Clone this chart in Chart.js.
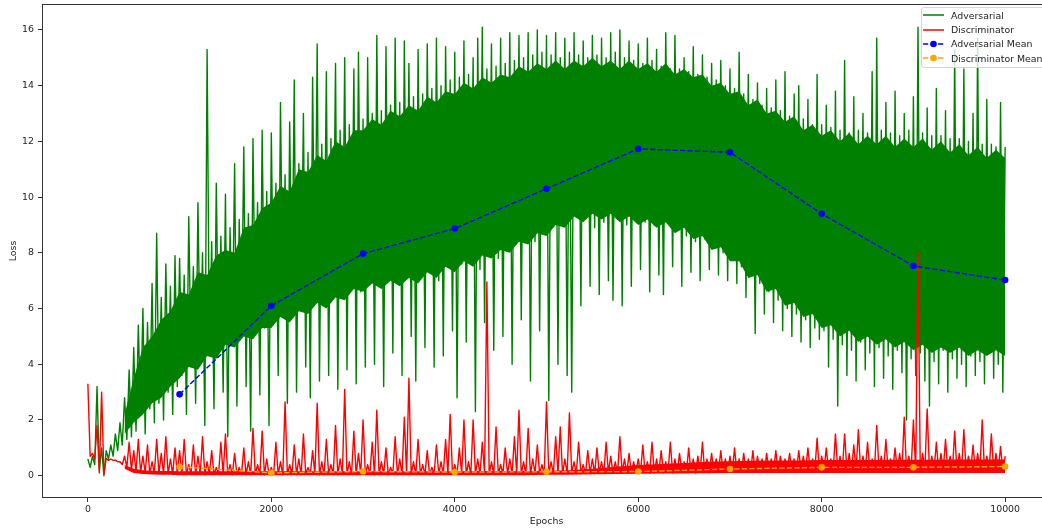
<!DOCTYPE html>
<html lang="en">
<head>
<meta charset="UTF-8">
<title>Adversarial / Discriminator Loss</title>
<script src="https://cdn.jsdelivr.net/npm/chart.js"></script>
<style>
    body {
        margin: 0;
        background: #fff;
        font-family: "DejaVu Sans", sans-serif;
    }
    #wrap {
        position: relative;
        width: 1042px;
        height: 529px;
        overflow: hidden;
    }
    #lossChart {
        position: absolute;
        left: 0;
        top: 0;
    }
    .legend {
        position: absolute;
        left: 921px;
        top: 7px;
        width: 130px;
        padding: 0 0 1px 0;
        background: rgba(255, 255, 255, 0.8);
        border: 1px solid #d4d4d4;
        border-radius: 3px;
        font-size: 9.4px;
        color: #222;
    }
    .legend div {
        height: 14.4px;
        display: flex;
        align-items: center;
        white-space: nowrap;
    }
    .legend svg {
        margin: 0 7px 0 1px;
    }
</style>
</head>
<body>

<div id="wrap">
    <canvas id="lossChart" width="1060" height="529"></canvas>
    <div class="legend">
        <div><svg width="21" height="10"><line x1="0" y1="5" x2="21" y2="5" stroke="#008000" stroke-width="1.5"/></svg>Adversarial</div>
        <div><svg width="21" height="10"><line x1="0" y1="5" x2="21" y2="5" stroke="#ff0000" stroke-width="1.5"/></svg>Discriminator</div>
        <div><svg width="21" height="10"><line x1="0" y1="5" x2="21" y2="5" stroke="#0000ff" stroke-width="1.4" stroke-dasharray="5.2 2.3"/><circle cx="10.5" cy="5" r="3.3" fill="#0000ff"/></svg>Adversarial Mean</div>
        <div><svg width="21" height="10"><line x1="0" y1="5" x2="21" y2="5" stroke="#ffa500" stroke-width="1.4" stroke-dasharray="5.2 2.3"/><circle cx="10.5" cy="5" r="3.3" fill="#ffa500"/></svg>Discriminator Mean</div>
    </div>
</div>

<script>
    // tick values
    const xTicks = [0, 2000, 4000, 6000, 8000, 10000];
    const yTicks = [0, 2, 4, 6, 8, 10, 12, 14, 16];

    // spikes: tops at epochs 0, 50, ..., 10000 and bottoms at 25, 75, ..., 9975
    const sampleStep = 50;

    const advHigh = [
        0.6, 0.7, 3.2, 1.0, 0.9, 1.1, 1.5, 1.9, 2.8, 3.8,
        4.6, 5.4, 6.0, 5.5, 6.9, 8.7, 6.4, 7.6, 6.8, 7.9,
        7.8, 7.2, 9.3, 7.5, 9.8, 8.0, 15.3, 8.4, 10.5, 8.6,
        10.1, 8.9, 11.2, 9.2, 11.8, 9.4, 12.1, 9.8, 12.4, 10.2,
        12.3, 10.5, 13.4, 10.8, 12.7, 14.2, 11.2, 13.0, 11.6, 14.3,
        15.5, 11.9, 14.5, 12.1, 14.8, 12.4, 15.0, 12.6, 14.6, 15.2,
        12.8, 15.0, 13.0, 15.8, 13.1, 15.4, 13.3, 15.7, 13.4, 15.6,
        14.8, 13.6, 15.3, 13.7, 15.5, 13.9, 15.7, 14.0, 15.4, 14.2,
        15.2, 14.3, 15.6, 14.4, 15.0, 15.7, 16.1, 14.6, 15.5, 14.7,
        15.7, 14.8, 15.9, 14.9, 15.8, 15.0, 15.9, 15.1, 16.0, 15.2,
        15.8, 15.1, 15.9, 15.0, 15.7, 15.2, 15.9, 15.1, 15.6, 15.0,
        15.8, 15.1, 15.7, 15.0, 15.9, 15.2, 16.0, 15.0, 15.6, 14.9,
        15.5, 14.8, 15.7, 14.9, 15.3, 14.7, 15.9, 14.6, 15.8, 14.6,
        15.0, 14.5, 15.4, 14.4, 15.1, 14.3, 14.8, 14.2, 14.9, 14.0,
        14.6, 13.9, 15.2, 13.7, 14.4, 13.5, 14.1, 13.3, 13.9, 13.2,
        14.2, 13.1, 14.5, 12.9, 13.7, 14.0, 12.8, 13.5, 12.6, 14.4,
        12.6, 13.3, 12.5, 13.8, 12.4, 14.9, 12.3, 13.6, 12.4, 13.0,
        12.3, 14.5, 15.7, 12.4, 13.4, 12.3, 13.8, 12.2, 13.0, 12.4,
        13.6, 16.1, 12.3, 13.2, 12.2, 13.9, 12.2, 13.1, 12.1, 15.3,
        12.1, 14.6, 12.0, 13.0, 15.7, 11.9, 13.5, 11.9, 11.8, 13.4,
        11.8
    ];
    const advLow = [
        0.3, 0.4, 0.2, 0.0, 0.6, 0.7, 0.9, 1.1, 1.3, 1.4,
        1.6, 2.2, 1.5, 2.4, 1.9, 2.6, 2.0, 3.0, 2.2, 3.2,
        3.6, 2.2, 4.0, 2.6, 4.2, 1.8, 4.4, 2.4, 4.5, 3.0,
        1.4, 5.0, 2.5, 5.2, 3.2, 1.6, 5.4, 2.9, 5.3, 1.8,
        5.8, 3.6, 6.0, 2.6, 6.1, 3.0, 5.9, 3.9, 2.8, 6.2,
        3.4, 6.5, 3.6, 6.7, 3.1, 6.4, 3.8, 6.8, 3.3, 6.6,
        3.9, 7.0, 4.0, 6.8, 3.2, 7.1, 4.4, 6.9, 3.6, 7.2,
        5.0, 3.4, 7.3, 4.6, 7.4, 3.9, 7.0, 4.3, 7.5, 5.2,
        2.8, 7.6, 4.8, 7.9, 2.3, 7.4, 5.5, 8.0, 4.5, 7.8,
        5.0, 8.3, 4.0, 8.5, 5.6, 8.6, 3.4, 8.4, 5.2, 8.7,
        2.7, 9.2, 4.0, 9.4, 3.6, 3.0, 9.5, 6.1, 9.6, 6.8,
        8.9, 6.5, 9.1, 7.0, 6.3, 9.2, 6.1, 9.0, 6.8, 9.3,
        7.4, 9.1, 6.6, 9.0, 7.2, 6.5, 9.1, 7.5, 9.2, 6.8,
        8.6, 7.3, 8.4, 7.0, 8.5, 7.4, 8.2, 7.2, 8.0, 7.0,
        7.8, 6.9, 7.5, 6.4, 7.2, 5.1, 6.9, 5.8, 6.6, 5.5,
        6.3, 5.2, 6.0, 5.0, 5.8, 4.8, 5.6, 4.6, 5.3, 4.9,
        5.2, 3.9, 4.9, 2.5, 4.7, 3.6, 4.5, 3.4, 4.8, 3.8,
        4.4, 3.2, 4.6, 3.5, 4.3, 3.1, 4.5, 3.7, 2.0, 4.2,
        3.6, 4.4, 3.4, 2.5, 4.1, 3.3, 4.5, 3.0, 4.2, 3.5,
        4.0, 3.2, 4.3, 3.6, 4.1, 3.3, 4.4, 3.5, 4.0, 3.0
    ];

    const discHigh = [
        3.3, 0.8, 1.8, 3.0, 0.62, 0.6, 0.56, 0.5, 0.7, 1.2,
        0.9, 1.3, 0.7, 1.1, 0.5, 1.3, 0.8, 1.4, 0.6, 1.0,
        0.9, 1.3, 0.4, 1.1, 0.7, 1.4, 0.5, 0.9, 0.3, 1.2,
        1.5, 0.4, 0.8, 0.3, 1.0, 0.5, 1.7, 0.4, 1.6, 0.6,
        0.3, 1.2, 0.5, 2.65, 0.4, 1.1, 0.6, 1.5, 0.3, 0.9,
        2.6, 0.5, 1.3, 0.4, 1.8, 0.6, 3.1, 0.5, 1.6, 0.8,
        2.0, 0.4, 1.2, 2.35, 0.5, 1.0, 0.3, 1.4, 0.6, 2.1,
        3.5, 0.5, 1.3, 0.4, 0.9, 0.3, 1.1, 0.5, 1.3, 2.2,
        0.4, 1.0, 2.0, 0.5, 2.0, 0.6, 1.2, 6.95, 0.5, 1.75,
        0.4, 1.0, 0.6, 1.4, 2.35, 0.5, 1.7, 0.6, 1.1, 0.4,
        2.65, 0.5, 1.4, 1.75, 0.6, 2.25, 0.5, 1.2, 0.4, 0.9,
        0.6, 1.0, 0.5, 1.2, 0.7, 0.5, 1.4, 0.6, 0.8, 0.5,
        0.6, 1.1, 0.5, 1.2, 0.6, 0.9, 0.5, 1.2, 0.6, 0.8,
        0.5, 1.0, 0.6, 0.7, 1.2, 0.6, 0.8, 0.6, 0.9, 0.6,
        0.7, 1.0, 0.6, 0.8, 0.6, 0.9, 0.7, 0.6, 0.8, 0.6,
        0.9, 0.7, 0.6, 0.8, 0.6, 0.9, 0.7, 1.0, 0.6, 1.35,
        0.7, 1.0, 0.6, 1.5, 0.7, 1.5, 0.8, 1.1, 1.65, 0.7,
        1.2, 0.6, 1.8, 0.7, 1.3, 0.6, 1.0, 0.8, 2.1, 0.7,
        2.0, 8.0, 0.8, 2.4, 0.7, 1.2, 0.8, 1.3, 0.7, 1.6,
        0.8, 1.65, 0.7, 1.1, 0.8, 2.0, 0.7, 1.5, 0.8, 1.05,
        0.7
    ];
    const discLow = [
        0.7, 0.6, 0.1, 0.05, 0.55, 0.55, 0.5, 0.4, 0.3, 0.2,
        0.15, 0.12, 0.1, 0.08, 0.09, 0.07, 0.06, 0.07, 0.05, 0.06,
        0.05, 0.04, 0.06, 0.04, 0.05, 0.03, 0.05, 0.04, 0.06, 0.04,
        0.05, 0.03, 0.04, 0.05, 0.03, 0.04, 0.05, 0.04, 0.03, 0.05,
        0.04, 0.05, 0.03, 0.04, 0.06, 0.04, 0.03, 0.05, 0.04, 0.05,
        0.03, 0.04, 0.05, 0.04, 0.03, 0.05, 0.04, 0.06, 0.04, 0.05,
        0.04, 0.05, 0.03, 0.04, 0.05, 0.04, 0.06, 0.04, 0.05, 0.04,
        0.05, 0.04, 0.06, 0.05, 0.04, 0.06, 0.05, 0.04, 0.05, 0.06,
        0.05, 0.06, 0.04, 0.05, 0.06, 0.05, 0.07, 0.05, 0.06, 0.05,
        0.06, 0.07, 0.05, 0.06, 0.07, 0.06, 0.05, 0.07, 0.06, 0.07,
        0.06, 0.07, 0.08, 0.06, 0.07, 0.08, 0.07, 0.08, 0.07, 0.08,
        0.08, 0.09, 0.08, 0.1, 0.09, 0.08, 0.1, 0.09, 0.1, 0.09,
        0.1, 0.11, 0.09, 0.1, 0.11, 0.1, 0.12, 0.1, 0.11, 0.12,
        0.11, 0.12, 0.1, 0.13, 0.12, 0.11, 0.13, 0.12, 0.14, 0.12,
        0.13, 0.14, 0.12, 0.15, 0.13, 0.14, 0.15, 0.13, 0.16, 0.14,
        0.15, 0.16, 0.14, 0.17, 0.15, 0.16, 0.18, 0.15, 0.17, 0.16,
        0.17, 0.18, 0.16, 0.19, 0.17, 0.18, 0.16, 0.19, 0.17, 0.18,
        0.16, 0.19, 0.17, 0.18, 0.16, 0.19, 0.17, 0.18, 0.16, 0.17,
        0.18, 0.16, 0.19, 0.17, 0.18, 0.16, 0.19, 0.17, 0.18, 0.16,
        0.19, 0.17, 0.18, 0.16, 0.19, 0.17, 0.18, 0.16, 0.19, 0.17
    ];

    // solid part of the adversarial trace, epochs 400, 500, ..., 10000
    const advCoreStart = 400;
    const advCoreStep = 100;
    const advCoreTop = [
        2.2,
        3.5, 4.6, 5.0, 5.6, 5.9,
        6.6, 6.5, 7.3, 7.2, 7.9, 8.1, 8.0, 8.9, 9.0, 9.6,
        9.8, 10.4, 10.2, 11.0, 10.9, 11.5, 11.3, 12.0, 11.8, 12.4,
        12.4, 12.8, 12.6, 13.1, 12.9, 13.3, 13.1, 13.6, 13.4, 13.8,
        13.7, 14.1, 13.9, 14.3, 14.1, 14.4, 14.3, 14.7, 14.5, 14.8,
        14.6, 14.9, 14.6, 14.9, 14.7, 15.0, 14.7, 14.9, 14.6, 14.9,
        14.6, 14.8, 14.5, 14.8, 14.4, 14.6, 14.3, 14.4, 14.0, 14.1,
        13.7, 13.8, 13.3, 13.5, 13.0, 13.1, 12.7, 12.9, 12.4, 12.6,
        12.2, 12.4, 12.0, 12.3, 11.9, 12.2, 11.9, 12.2, 11.8, 12.1,
        11.8, 12.1, 11.7, 12.0, 11.6, 11.9, 11.5, 11.8, 11.4, 11.7,
        11.4
    ];
    const advCoreBottom = [
        1.5,
        1.9, 2.2, 2.6, 2.8, 3.2,
        3.5, 3.9, 3.8, 4.3, 4.2, 4.7, 4.6, 5.0, 4.9, 5.3,
        5.3, 5.7, 5.5, 5.9, 5.8, 6.2, 6.0, 6.4, 6.3, 6.7,
        6.6, 6.9, 6.7, 7.0, 6.8, 7.1, 6.9, 7.3, 7.1, 7.5,
        7.3, 7.7, 7.5, 7.9, 7.8, 8.1, 8.0, 8.4, 8.3, 8.7,
        8.6, 9.0, 8.9, 9.3, 9.1, 9.4, 9.2, 9.4, 9.1, 9.3,
        9.0, 9.2, 8.9, 9.1, 8.7, 8.9, 8.5, 8.6, 8.1, 8.2,
        7.7, 7.7, 7.1, 7.2, 6.6, 6.7, 6.1, 6.2, 5.7, 5.8,
        5.3, 5.4, 5.0, 5.2, 4.8, 5.0, 4.7, 4.9, 4.6, 4.8,
        4.5, 4.7, 4.4, 4.6, 4.4, 4.6, 4.3, 4.5, 4.3, 4.5,
        4.3
    ];

    // solid part of the discriminator trace
    const discCoreEpochs = [400, 500, 600, 700, 800, 900, 1000, 1250, 1500, 1750,
        2000, 2250, 2500, 2750, 3000, 3250, 3500, 3750, 4000, 4250,
        4500, 4750, 5000, 5250, 5500, 5750, 6000, 6250, 6500, 6750,
        7000, 7250, 7500, 7750, 8000, 8250, 8500, 8750, 9000, 9250,
        9500, 9750, 10000];
    const discCoreTop = [0.38, 0.25, 0.2, 0.18, 0.17, 0.17, 0.16, 0.16, 0.16, 0.16,
        0.16, 0.16, 0.16, 0.16, 0.16, 0.16, 0.16, 0.16, 0.16, 0.17,
        0.17, 0.17, 0.18, 0.2, 0.25, 0.32, 0.38, 0.42, 0.46, 0.5,
        0.52, 0.54, 0.55, 0.55, 0.56, 0.56, 0.56, 0.57, 0.57, 0.57,
        0.58, 0.58, 0.58];
    const discCoreBottom = [0.25, 0.1, 0.06, 0.04, 0.03, 0.03, 0.02, 0.02, 0.02, 0.02,
        0.02, 0.02, 0.02, 0.02, 0.02, 0.02, 0.02, 0.02, 0.02, 0.02,
        0.02, 0.02, 0.03, 0.03, 0.05, 0.06, 0.07, 0.08, 0.08, 0.09,
        0.1, 0.1, 0.1, 0.1, 0.1, 0.1, 0.1, 0.1, 0.1, 0.1,
        0.1, 0.1, 0.1];

    // means every 1000 epochs
    const meanEpochs = [1000, 2000, 3000, 4000, 5000, 6000, 7000, 8000, 9000, 10000];
    const advMean = [2.92, 6.1, 7.97, 8.87, 10.3, 11.73, 11.61, 9.4, 7.53, 7.02];
    const discMean = [0.32, 0.1, 0.15, 0.13, 0.14, 0.15, 0.24, 0.3, 0.3, 0.33];

    // tops and bottoms alternate so the line gives the spiky edge of the raw trace
    function zigzag(tops, bottoms) {
        const pts = [];
        tops.forEach((v, i) => {
            pts.push({ x: i * sampleStep, y: v });
            if (i < bottoms.length) pts.push({ x: i * sampleStep + sampleStep / 2, y: bottoms[i] });
        });
        return pts;
    }

    function pairs(xs, ys) {
        return xs.map((x, i) => ({ x: x, y: ys[i] }));
    }

    const advCoreEpochs = advCoreTop.map((_, i) => advCoreStart + i * advCoreStep);

    // edge of a filled band, the second one fills back to the first
    function bandEdge(xs, ys, color, order, fill) {
        return {
            data: pairs(xs, ys),
            borderColor: 'rgba(0,0,0,0)',
            borderWidth: 1,
            backgroundColor: color,
            pointRadius: 0,
            fill: fill,
            order: order
        };
    }

    const tickFont = { family: 'DejaVu Sans', size: 9.4 };

    // matplotlib style box around the axes
    const frame = {
        id: 'frame',
        afterDatasetsDraw(chart) {
            const { ctx, chartArea: a } = chart;
            ctx.save();
            ctx.strokeStyle = '#333';
            ctx.lineWidth = 1;
            ctx.strokeRect(a.left + 0.5, a.top + 0.5, a.right - a.left - 1, a.bottom - a.top - 1);
            ctx.restore();
        }
    };

    new Chart(document.getElementById('lossChart'), {
        type: 'line',
        data: {
            datasets: [
                bandEdge(advCoreEpochs, advCoreTop, '#008000', 8, false),
                bandEdge(advCoreEpochs, advCoreBottom, '#008000', 7, '-1'),
                {
                    label: 'Adversarial',
                    data: zigzag(advHigh, advLow),
                    borderColor: '#008000',
                    borderWidth: 1.4,
                    borderJoinStyle: 'round',
                    pointRadius: 0,
                    tension: 0,
                    order: 6
                },
                bandEdge(discCoreEpochs, discCoreTop, '#ff0000', 5, false),
                bandEdge(discCoreEpochs, discCoreBottom, '#ff0000', 4, '-1'),
                {
                    label: 'Discriminator',
                    data: zigzag(discHigh, discLow),
                    borderColor: '#ff0000',
                    borderWidth: 1.4,
                    borderJoinStyle: 'round',
                    pointRadius: 0,
                    tension: 0,
                    order: 3
                },
                {
                    label: 'Adversarial Mean',
                    data: pairs(meanEpochs, advMean),
                    borderColor: '#0000ff',
                    borderWidth: 1.4,
                    borderDash: [5.2, 2.3],
                    pointRadius: 3.3,
                    pointBorderWidth: 0,
                    pointBackgroundColor: '#0000ff',
                    tension: 0,
                    order: 2
                },
                {
                    label: 'Discriminator Mean',
                    data: pairs(meanEpochs, discMean),
                    borderColor: '#ffa500',
                    borderWidth: 1.4,
                    borderDash: [5.2, 2.3],
                    pointRadius: 3.3,
                    pointBorderWidth: 0,
                    pointBackgroundColor: '#ffa500',
                    tension: 0,
                    order: 1
                }
            ]
        },
        options: {
            responsive: false,
            animation: false,
            events: [],
            layout: { padding: { top: 3, right: 9, left: 0, bottom: 0 } },
            plugins: {
                legend: { display: false },
                tooltip: { enabled: false }
            },
            scales: {
                x: {
                    type: 'linear',
                    min: -500,
                    max: 10500,
                    afterBuildTicks: s => { s.ticks = xTicks.map(v => ({ value: v })); },
                    afterFit: s => { s.height = 31; s.paddingLeft = 0; s.paddingRight = 0; },
                    border: { display: false },
                    grid: { drawOnChartArea: false, tickLength: 4, color: '#333', tickWidth: 1 },
                    ticks: { font: tickFont, color: '#222', padding: 2, maxRotation: 0, callback: v => String(v) },
                    title: { display: true, text: 'Epochs', font: tickFont, color: '#222', padding: { top: 0, bottom: 1.4 } }
                },
                y: {
                    type: 'linear',
                    min: -0.8,
                    max: 16.93,
                    afterBuildTicks: s => { s.ticks = yTicks.map(v => ({ value: v })); },
                    afterFit: s => { s.width = 42; s.paddingTop = 0; s.paddingBottom = 0; },
                    border: { display: false },
                    grid: { drawOnChartArea: false, tickLength: 4, color: '#333', tickWidth: 1 },
                    ticks: { font: tickFont, color: '#222', padding: 4, callback: v => String(v) },
                    title: { display: true, text: 'Loss', font: tickFont, color: '#222', padding: { top: 8.4, bottom: 0 } }
                }
            }
        },
        plugins: [frame]
    });
</script>

</body>
</html>
